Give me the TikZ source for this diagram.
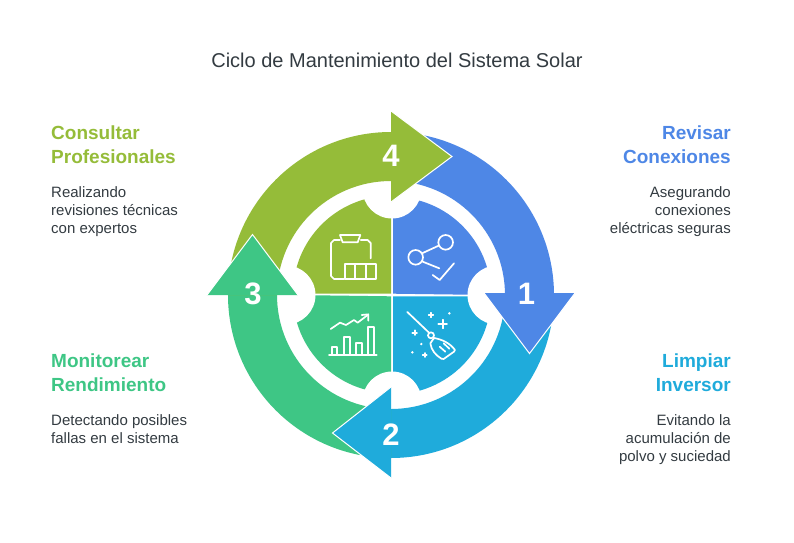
\documentclass[tikz,border=0pt]{standalone}
\usepackage{fontspec}
\setmainfont{Liberation Sans}
\definecolor{olive4}{HTML}{95BC39}
\definecolor{blue1}{HTML}{4E87E6}
\definecolor{teal2}{HTML}{1FABDB}
\definecolor{green3}{HTML}{3EC685}
\definecolor{inktext}{HTML}{333B41}
\tikzset{
  heading/.style={font=\fontsize{19}{24}\selectfont\bfseries,inner sep=0pt},
  bodytext/.style={font=\fontsize{15}{18}\selectfont,text=inktext,inner sep=0pt},
  stepnum/.style={font=\fontsize{31}{31}\selectfont\bfseries,text=white,inner sep=0pt},
  iconline/.style={draw=white,line width=1.7pt,line cap=round,line join=round,x=0.3333pt,y=-0.3333pt},
  headedge/.style={draw=white,line width=1pt,line join=miter},
}
\begin{document}
\begin{tikzpicture}[x=1pt,y=1pt]
  \useasboundingbox (-391,295) rectangle (403,-247);

  % quadrants
  \fill[olive4] (0,1.3) -- (-98,1.3) arc [start angle=180, end angle=90, radius=98] -- cycle;
  \fill[blue1] (2,1.3) -- (2,98) arc [start angle=90, end angle=0, radius=98] -- cycle;
  \fill[teal2] (2,-1.3) -- (100,-1.3) arc [start angle=0, end angle=-90, radius=98] -- cycle;
  \fill[green3] (0,-1.3) -- (0,-98) arc [start angle=-90, end angle=-180, radius=98] -- cycle;

  % notches
  \foreach \cx/\cy in {1/106,106/0,1/-106,-105/0}
    \fill[white] (\cx,\cy) circle [radius=29.5];

  % rings
  \fill[blue1] (0,163) arc [start angle=90, end angle=0, radius=163] -- (114,0) arc [start angle=0, end angle=90, radius=114] -- cycle;
  \fill[teal2] (163,0) arc [start angle=0, end angle=-90, radius=163] -- (0,-114) arc [start angle=-90, end angle=0, radius=114] -- cycle;
  \fill[green3] (0,-163) arc [start angle=-90, end angle=-180, radius=163] -- (-114,0) arc [start angle=180, end angle=270, radius=114] -- cycle;
  \fill[olive4] (-163,0) arc [start angle=180, end angle=90, radius=163] -- (0,114) arc [start angle=90, end angle=180, radius=114] -- cycle;

  % arrow heads
  \fill[olive4] (0,184) -- (61,138.5) -- (0,93) -- cycle;
  \draw[headedge] (0,184) -- (61,138.5) -- (0,93);
  \fill[blue1] (93,2) -- (138.5,-58.5) -- (184,2) -- cycle;
  \draw[headedge] (93,2) -- (138.5,-58.5) -- (184,2);
  \fill[teal2] (0,-92) -- (-58.5,-138) -- (0,-183) -- cycle;
  \draw[headedge] (0,-92) -- (-58.5,-138) -- (0,-183);
  \fill[green3] (-184,0) -- (-138.5,60.5) -- (-93,0) -- cycle;
  \draw[headedge] (-184,0) -- (-138.5,60.5) -- (-93,0);

  \node[stepnum] (num4) at (0,139) {4};
  \node[stepnum] (num1) at (135.5,1) {1};
  \node[stepnum] (num2) at (0,-140) {2};
  \node[stepnum] (num3) at (-138,1) {3};

  % clipboard icon
  \begin{scope}[shift={(-71pt,70pt)},iconline]
    \draw (60,45) -- (42,45) -- (33,54) -- (33,153) -- (42,162) -- (73,162);
    \draw (122,45) -- (143,45) -- (152,54) -- (152,100);
    \draw (60,30) -- (121,30) -- (113,52) -- (68,52) -- cycle;
    \draw (75,117) rectangle (168,162);
    \draw (106,117) -- (106,162);
    \draw (137,117) -- (137,162);
  \end{scope}

  % connection icon
  \begin{scope}[shift={(1pt,70pt)},iconline]
    \draw (161,52) circle [radius=22];
    \draw (71,97) circle [radius=22];
    \draw (90,85) -- (140,62);
    \draw (92,110) -- (142,130);
    \draw (122,150) -- (143,165) -- (186,115);
  \end{scope}

  % chart icon
  \begin{scope}[shift={(-71pt,-5pt)},iconline]
    \draw (27,165) -- (170,165);
    \draw (35,165) -- (35,141) -- (52,141) -- (52,165);
    \draw (72,165) -- (72,111) -- (90,111) -- (90,165);
    \draw (108,165) -- (108,129) -- (125,129) -- (125,165);
    \draw (145,165) -- (145,81) -- (161,81) -- (161,165);
    \draw (32,87) -- (60,68) -- (78,75) -- (102,60) -- (113,68) -- (143,45);
    \draw (125,45) -- (145,43) -- (145,62);
  \end{scope}

  % broom icon
  \begin{scope}[shift={(1pt,-5pt)},iconline]
    \draw (46,36) -- (110,97);
    \draw (117,106) circle [radius=9];
    \draw (126,114) .. controls (150,118) and (175,130) .. (189,150) -- (186,155) -- (155,177) -- (148,176) .. controls (130,165) and (118,150) .. (115,130) -- cycle;
    \draw (143,140) -- (160,155);
    \draw (155,130) -- (172,146);
    \foreach \sx/\sy/\sr in {152/72/13,117/45/7,68/98/7,98/165/6}
      \draw (\sx-\sr,\sy) -- (\sx+\sr,\sy) (\sx,\sy-\sr) -- (\sx,\sy+\sr);
    \foreach \sx/\sy in {172/40,88/132,61/157}
      \fill[white] (\sx,\sy) circle [radius=4];
  \end{scope}

  % labels
  \node[font=\fontsize{20}{24}\selectfont,text=inktext,inner sep=0pt] (title) at (6,234.5) {Ciclo de Mantenimiento del Sistema Solar};

  \node[heading,text=olive4,anchor=north west,align=left] (consultar) at (-340,169.5) {Consultar\\Profesionales};
  \node[heading,text=blue1,anchor=north east,align=right] (revisar) at (340,169.5) {Revisar\\Conexiones};
  \node[heading,text=green3,anchor=north west,align=left] (monitorear) at (-340,-58.5) {Monitorear\\Rendimiento};
  \node[heading,text=teal2,anchor=north east,align=right] (limpiar) at (340,-58.5) {Limpiar\\Inversor};

  \node[bodytext,anchor=north west,align=left] (consultartxt) at (-340,108.5) {Realizando\\revisiones técnicas\\con expertos};
  \node[bodytext,anchor=north east,align=right] (revisartxt) at (340,108.5) {Asegurando\\conexiones\\eléctricas seguras};
  \node[bodytext,anchor=north west,align=left] (monitoreartxt) at (-340,-119.5) {Detectando posibles\\fallas en el sistema};
  \node[bodytext,anchor=north east,align=right] (limpiartxt) at (340,-119.5) {Evitando la\\acumulación de\\polvo y suciedad};
\end{tikzpicture}
\end{document}
